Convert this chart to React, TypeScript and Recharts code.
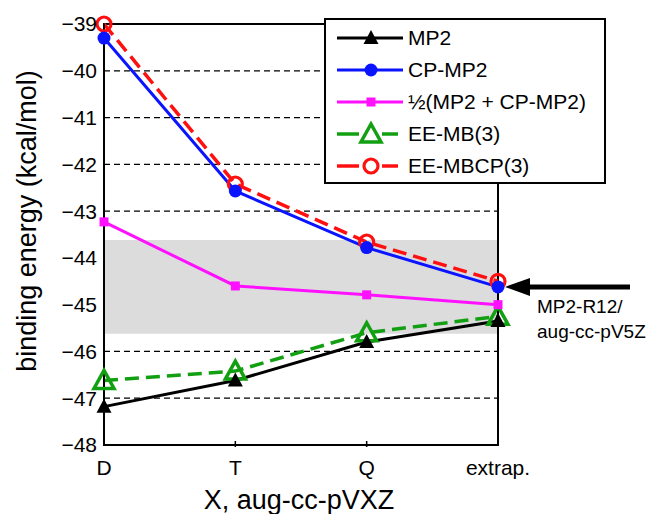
import React from "react";
import {
  LineChart,
  Line,
  XAxis,
  YAxis,
  CartesianGrid,
  ReferenceArea,
  ReferenceDot,
  Legend,
} from "recharts";

const basis = ["D", "T", "Q", "extrap."];
const mp2 = [-47.18, -46.62, -45.8, -45.35];
const cpMp2 = [-39.3, -42.57, -43.78, -44.62];
const halfAvg = [-43.23, -44.6, -44.79, -45.0];
const eeMb3 = [-46.62, -46.42, -45.6, -45.25];
const eeMbcp3 = [-39.0, -42.42, -43.66, -44.5];
const yTicks = [-48, -47, -46, -45, -44, -43, -42, -41, -40, -39];
const r12Value = -44.62;
const r12Band = [-45.62, -43.62];

const FONT = '"Liberation Sans", Arial, Helvetica, sans-serif';

const data = basis.map((b, i) => ({
  basis: b,
  mp2: mp2[i],
  cp: cpMp2[i],
  half: halfAvg[i],
  eemb: eeMb3[i],
  eembcp: eeMbcp3[i],
}));

const fmt = (v: number) => (v < 0 ? "\u2212" + Math.abs(v) : String(v));

type MarkerKind = "tri" | "circle" | "square" | "openTri" | "openCircle";

function marker(kind: MarkerKind, cx: number, cy: number, color: string, key?: string) {
  switch (kind) {
    case "tri":
      return <path key={key} d={`M${cx},${cy - 8} L${cx + 7.5},${cy + 6} L${cx - 7.5},${cy + 6} Z`} fill={color} />;
    case "circle":
      return <circle key={key} cx={cx} cy={cy} r={6.5} fill={color} />;
    case "square":
      return <rect key={key} x={cx - 4.5} y={cy - 4.5} width={9} height={9} fill={color} />;
    case "openTri":
      return (
        <path
          key={key}
          d={`M${cx},${cy - 10} L${cx + 10},${cy + 8} L${cx - 10},${cy + 8} Z`}
          fill="none"
          stroke={color}
          strokeWidth={3.5}
          strokeLinejoin="miter"
        />
      );
    default:
      return <circle key={key} cx={cx} cy={cy} r={7} fill="none" stroke={color} strokeWidth={3.2} />;
  }
}

const dotOf = (kind: MarkerKind, color: string) => (p: any) =>
  marker(kind, p.cx, p.cy, color, `${kind}-${p.index}`);

const series = [
  { key: "mp2", name: "MP2", color: "#000000", kind: "tri" as MarkerKind, dash: undefined, width: 3 },
  { key: "cp", name: "CP-MP2", color: "#0a14ff", kind: "circle" as MarkerKind, dash: undefined, width: 3 },
  { key: "half", name: "\u00bd(MP2 + CP-MP2)", color: "#ff10ff", kind: "square" as MarkerKind, dash: undefined, width: 3 },
  { key: "eemb", name: "EE-MB(3)", color: "#12a012", kind: "openTri" as MarkerKind, dash: "14 7", width: 3.5 },
  { key: "eembcp", name: "EE-MBCP(3)", color: "#ff1010", kind: "openCircle" as MarkerKind, dash: "14 7", width: 3.5 },
];

function LegendBox() {
  return (
    <div
      style={{
        boxSizing: "border-box",
        width: 282,
        height: 166,
        border: "2.5px solid #000",
        background: "#fff",
        paddingTop: 2,
        fontFamily: FONT,
        fontSize: 21,
      }}
    >
      {series.map((s) => (
        <div key={s.key} style={{ display: "flex", alignItems: "center", height: 32 }}>
          <svg width={80} height={28} style={{ flex: "none" }}>
            {s.dash ? (
              <g stroke={s.color} strokeWidth={s.width}>
                <line x1={11} y1={14} x2={33} y2={14} />
                <line x1={56} y1={14} x2={72} y2={14} />
              </g>
            ) : (
              <line x1={11} y1={14} x2={77} y2={14} stroke={s.color} strokeWidth={s.width} />
            )}
            {marker(s.kind, 45, 14, s.color)}
          </svg>
          <span style={{ marginLeft: 2, whiteSpace: "nowrap" }}>{s.name}</span>
        </div>
      ))}
    </div>
  );
}

function XTick(props: any) {
  const { x, y, payload, index } = props;
  return (
    <g>
      {index > 0 && index < basis.length - 1 && (
        <line x1={x} y1={y} x2={x} y2={y - 6} stroke="#000" strokeWidth={1.5} />
      )}
      <text x={x} y={y + 28} textAnchor="middle" fontFamily={FONT} fontSize={21} fill="#000">
        {payload.value}
      </text>
    </g>
  );
}

function YLabel() {
  return (
    <text
      x={36}
      y={221}
      transform="rotate(-90 36 221)"
      textAnchor="middle"
      fontFamily={FONT}
      fontSize={27}
      fill="#000"
    >
      binding energy (kcal/mol)
    </text>
  );
}

function XLabel() {
  return (
    <text x={299} y={509} textAnchor="middle" fontFamily={FONT} fontSize={27} fill="#000">
      X, aug-cc-pVXZ
    </text>
  );
}

function R12Arrow(p: any) {
  const { cx, cy } = p;
  return (
    <g>
      <line x1={cx + 28} y1={cy} x2={cx + 132} y2={cy} stroke="#000" strokeWidth={5} />
      <path d={`M${cx + 7},${cy} L${cx + 32},${cy - 9} L${cx + 32},${cy + 9} Z`} fill="#000" />
      <text x={cx + 39} y={cy + 26} fontFamily={FONT} fontSize={19} fill="#000">
        MP2-R12/
      </text>
      <text x={cx + 39} y={cy + 51} fontFamily={FONT} fontSize={19} fill="#000">
        aug-cc-pV5Z
      </text>
    </g>
  );
}

export default function App() {
  return (
    <div style={{ position: "absolute", left: 0, top: 0, background: "#fff" }}>
      <LineChart width={649} height={514} data={data} margin={{ top: 24, right: 151, left: 0, bottom: 0 }}>
        <ReferenceArea
          x1="D"
          x2="extrap."
          y1={r12Band[0]}
          y2={r12Band[1]}
          fill="#dcdcdc"
          fillOpacity={1}
          stroke="none"
          ifOverflow="visible"
        />
        <CartesianGrid vertical={false} stroke="#000" strokeDasharray="6 4" strokeWidth={1.2} />
        <ReferenceArea
          x1="D"
          x2="extrap."
          y1={-48}
          y2={-39}
          fill="none"
          stroke="#000"
          strokeWidth={2}
          ifOverflow="visible"
        />
        <XAxis
          dataKey="basis"
          type="category"
          padding={{ left: 0, right: 0 }}
          interval={0}
          height={69}
          tickSize={0}
          tickLine={false}
          axisLine={{ stroke: "#000", strokeWidth: 2 }}
          tick={<XTick />}
          label={<XLabel />}
        />
        <YAxis
          domain={[-48, -39]}
          ticks={yTicks}
          width={104}
          tickSize={0}
          tickMargin={7}
          tickLine={false}
          axisLine={{ stroke: "#000", strokeWidth: 2 }}
          tickFormatter={fmt}
          tick={{ fill: "#000", fontSize: 21, fontFamily: FONT }}
          label={<YLabel />}
        />
        {[...series].reverse().map((s) => (
          <Line
            key={s.key}
            dataKey={s.key}
            name={s.name}
            stroke={s.color}
            strokeWidth={s.width}
            strokeDasharray={s.dash}
            dot={dotOf(s.kind, s.color)}
            activeDot={false}
            isAnimationActive={false}
          />
        ))}
        <ReferenceDot x="extrap." y={r12Value} r={0} ifOverflow="visible" shape={R12Arrow} />
        <Legend
          layout="vertical"
          align="center"
          verticalAlign="middle"
          content={<LegendBox />}
          wrapperStyle={{ position: "absolute", left: 324, top: 18, width: 282, height: 166 }}
        />
      </LineChart>
    </div>
  );
}
